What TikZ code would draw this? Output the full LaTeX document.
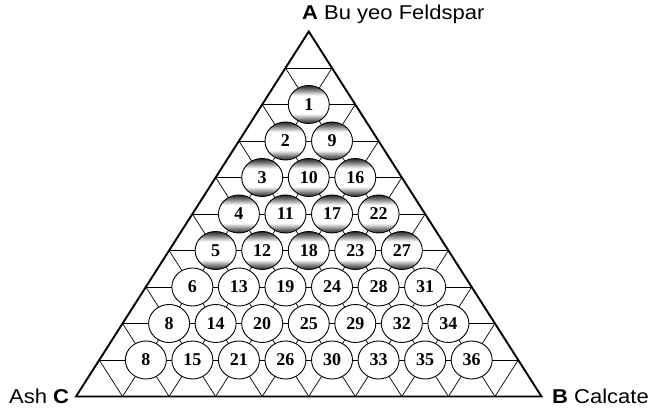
\documentclass[tikz,border=0pt]{standalone}
\usepackage{fontspec}
\setmainfont{Liberation Serif}
\newfontfamily\lblfont[FakeStretch=1.1]{Liberation Sans}
\usetikzlibrary{calc,shapes.geometric}
\pgfdeclareverticalshading{ballband}{100bp}{color(0bp)=(black!85); color(25bp)=(black!85); color(30bp)=(black!55); color(38bp)=(white); color(62bp)=(white); color(70bp)=(black!55); color(75bp)=(black!85); color(100bp)=(black!85)}
\begin{document}
\begin{tikzpicture}[x=1pt,y=-1pt,
  gridline/.style={line width=0.7pt},
  frame/.style={line width=1.9pt, line join=miter},
  plaincell/.style={draw, ellipse, minimum width=41pt, minimum height=38pt, inner sep=0pt, fill=white, line width=0.9pt, font=\fontsize{18}{18}\selectfont\bfseries},
  shadedcell/.style={plaincell, shading=ballband},
  lbl/.style={anchor=base west, inner sep=0pt, font=\lblfont\fontsize{20}{20}\selectfont}]
\useasboundingbox (0,0) rectangle (649,409);
\coordinate (A) at (308.75,31.5);
\coordinate (B) at (541.5,396.5);
\coordinate (C) at (76,396.5);
\foreach \i in {1,...,9} {
  \coordinate (L\i) at ($(A)!\i/10!(C)$);
  \coordinate (R\i) at ($(A)!\i/10!(B)$);
  \coordinate (B\i) at ($(C)!\i/10!(B)$);
}
\foreach \i in {1,...,9} \draw[gridline] (L\i) -- (R\i);
\foreach \k [evaluate=\k as \j using int(10-\k)] in {1,...,9} {
  \draw[gridline] (B\k) -- (R\k);
  \draw[gridline] (B\k) -- (L\j);
}
\foreach \r/\m/\t/\s [evaluate=\r as \lv using int(\r+1)] in {
  1/1/1/shadedcell,
  2/1/2/shadedcell, 2/2/9/shadedcell,
  3/1/3/shadedcell, 3/2/10/shadedcell, 3/3/16/shadedcell,
  4/1/4/shadedcell, 4/2/11/shadedcell, 4/3/17/shadedcell, 4/4/22/shadedcell,
  5/1/5/shadedcell, 5/2/12/shadedcell, 5/3/18/shadedcell, 5/4/23/shadedcell, 5/5/27/shadedcell,
  6/1/6/plaincell, 6/2/13/plaincell, 6/3/19/plaincell, 6/4/24/plaincell, 6/5/28/plaincell, 6/6/31/plaincell,
  7/1/8/plaincell, 7/2/14/plaincell, 7/3/20/plaincell, 7/4/25/plaincell, 7/5/29/plaincell, 7/6/32/plaincell, 7/7/34/plaincell,
  8/1/8/plaincell, 8/2/15/plaincell, 8/3/21/plaincell, 8/4/26/plaincell, 8/5/30/plaincell, 8/6/33/plaincell, 8/7/35/plaincell, 8/8/36/plaincell} {
  \node[\s] (c\r-\m) at ($(L\lv)!\m/\lv!(R\lv)$) {\t};
}
\draw[frame] (A) -- (B) -- (C) -- cycle;
\node[lbl] (lblA) at (302,19.5) {\textbf{A} Bu yeo Feldspar};
\node[lbl] (lblC) at (9,403) {Ash \textbf{C}};
\node[lbl] (lblB) at (552,403) {\textbf{B} Calcate};
\end{tikzpicture}
\end{document}
